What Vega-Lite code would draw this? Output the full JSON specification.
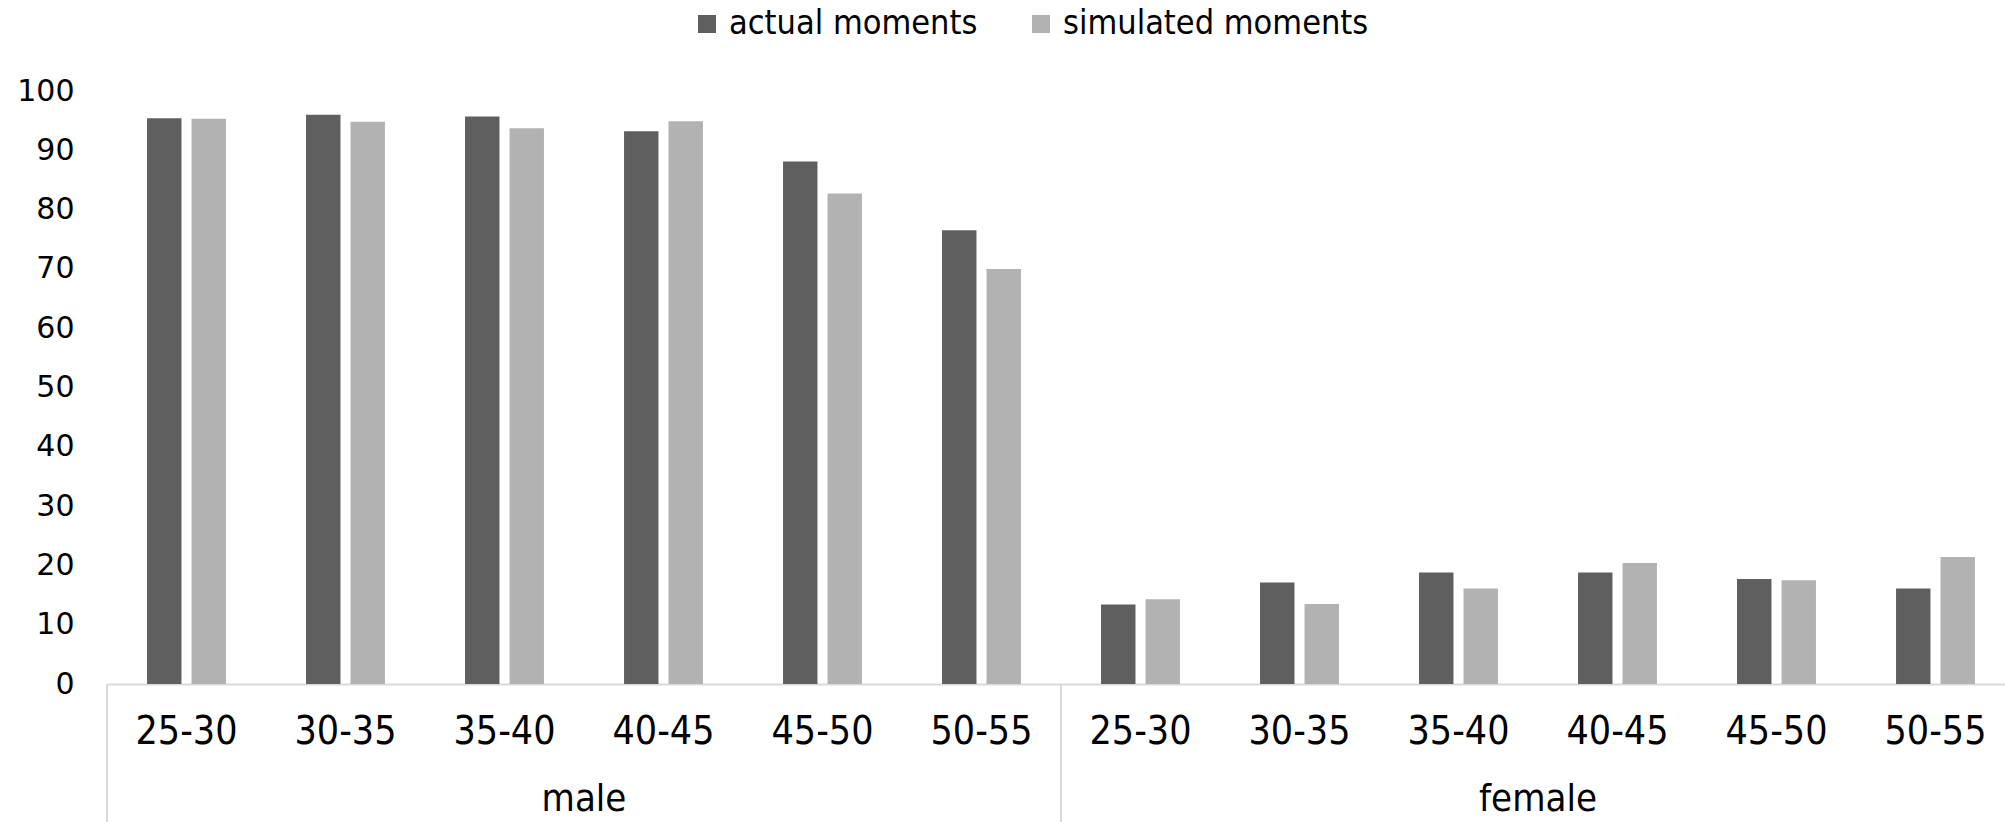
{
  "$schema": "https://vega.github.io/schema/vega-lite/v6.json",
  "width": 1908,
  "height": 593,
  "autosize": {"type": "none"},
  "padding": {"left": 107, "top": 91, "right": 0, "bottom": 138},
  "background": "white",
  "config": {"view": {"stroke": null}},
  "datasets": {
    "moments": [
      {"gender": "male", "age": "25-30", "cat": "male 25-30", "series": "actual moments", "value": 95.4},
      {"gender": "male", "age": "25-30", "cat": "male 25-30", "series": "simulated moments", "value": 95.3},
      {"gender": "male", "age": "30-35", "cat": "male 30-35", "series": "actual moments", "value": 96.0},
      {"gender": "male", "age": "30-35", "cat": "male 30-35", "series": "simulated moments", "value": 94.8},
      {"gender": "male", "age": "35-40", "cat": "male 35-40", "series": "actual moments", "value": 95.7},
      {"gender": "male", "age": "35-40", "cat": "male 35-40", "series": "simulated moments", "value": 93.7},
      {"gender": "male", "age": "40-45", "cat": "male 40-45", "series": "actual moments", "value": 93.2},
      {"gender": "male", "age": "40-45", "cat": "male 40-45", "series": "simulated moments", "value": 94.9},
      {"gender": "male", "age": "45-50", "cat": "male 45-50", "series": "actual moments", "value": 88.1},
      {"gender": "male", "age": "45-50", "cat": "male 45-50", "series": "simulated moments", "value": 82.7},
      {"gender": "male", "age": "50-55", "cat": "male 50-55", "series": "actual moments", "value": 76.5},
      {"gender": "male", "age": "50-55", "cat": "male 50-55", "series": "simulated moments", "value": 70.0},
      {"gender": "female", "age": "25-30", "cat": "female 25-30", "series": "actual moments", "value": 13.4},
      {"gender": "female", "age": "25-30", "cat": "female 25-30", "series": "simulated moments", "value": 14.3},
      {"gender": "female", "age": "30-35", "cat": "female 30-35", "series": "actual moments", "value": 17.1},
      {"gender": "female", "age": "30-35", "cat": "female 30-35", "series": "simulated moments", "value": 13.5},
      {"gender": "female", "age": "35-40", "cat": "female 35-40", "series": "actual moments", "value": 18.8},
      {"gender": "female", "age": "35-40", "cat": "female 35-40", "series": "simulated moments", "value": 16.1},
      {"gender": "female", "age": "40-45", "cat": "female 40-45", "series": "actual moments", "value": 18.8},
      {"gender": "female", "age": "40-45", "cat": "female 40-45", "series": "simulated moments", "value": 20.4},
      {"gender": "female", "age": "45-50", "cat": "female 45-50", "series": "actual moments", "value": 17.7},
      {"gender": "female", "age": "45-50", "cat": "female 45-50", "series": "simulated moments", "value": 17.5},
      {"gender": "female", "age": "50-55", "cat": "female 50-55", "series": "actual moments", "value": 16.1},
      {"gender": "female", "age": "50-55", "cat": "female 50-55", "series": "simulated moments", "value": 21.4}
    ],
    "groups": [{"gender": "male"}, {"gender": "female"}]
  },
  "layer": [
    {
      "data": {"name": "moments"},
      "mark": {"type": "bar"},
      "encoding": {
        "x": {
          "field": "cat", "type": "nominal", "sort": null,
          "scale": {"paddingInner": 0, "paddingOuter": 0},
          "axis": {
            "title": null, "ticks": false, "labelAngle": 0,
            "labelExpr": "split(datum.label, ' ')[1]",
            "labelFont": "Liberation Sans Narrow, Arial Narrow, DejaVu Sans Condensed, sans-serif",
            "labelFontSize": 39, "labelColor": "#000000", "labelPadding": 28,
            "domainColor": "#d9d9d9", "domainWidth": 2, "grid": false
          }
        },
        "xOffset": {
          "field": "series", "type": "nominal",
          "scale": {"paddingInner": 0.226, "paddingOuter": 0.9}
        },
        "y": {
          "field": "value", "type": "quantitative",
          "scale": {"domain": [0, 100], "nice": false},
          "axis": {
            "title": null, "ticks": false, "domain": false, "grid": false,
            "values": [0, 10, 20, 30, 40, 50, 60, 70, 80, 90, 100],
            "labelFont": "DejaVu Sans", "labelFontSize": 30, "labelColor": "#000000",
            "labelPadding": 33
          }
        },
        "color": {
          "field": "series", "type": "nominal",
          "scale": {"domain": ["actual moments", "simulated moments"], "range": ["#5f5f5f", "#b2b2b2"]},
          "legend": {
            "title": null, "orient": "none", "direction": "horizontal",
            "legendX": 583, "legendY": -84,
            "symbolType": "square", "symbolSize": 324, "symbolStrokeWidth": 0,
            "labelFont": "Liberation Sans Narrow, Arial Narrow, DejaVu Sans Condensed, sans-serif",
            "labelFontSize": 34, "labelColor": "#000000", "labelOffset": 5,
            "labelLimit": 0, "columnPadding": 46
          }
        }
      }
    },
    {
      "data": {"name": "groups"},
      "mark": {"type": "rule", "color": "#d9d9d9", "strokeWidth": 2},
      "encoding": {
        "x": {
          "field": "gender", "type": "nominal", "sort": ["male", "female"], "bandPosition": 0,
          "scale": {"paddingInner": 0, "paddingOuter": 0}, "axis": null
        },
        "y": {"datum": 0, "scale": {"domain": [0, 100], "nice": false}},
        "y2": {"datum": -23.5}
      }
    },
    {
      "data": {"name": "groups"},
      "mark": {
        "type": "text", "baseline": "middle", "align": "center",
        "font": "Liberation Sans Narrow, Arial Narrow, DejaVu Sans Condensed, sans-serif",
        "fontSize": 38, "color": "#000000"
      },
      "encoding": {
        "x": {
          "field": "gender", "type": "nominal", "sort": ["male", "female"],
          "scale": {"paddingInner": 0, "paddingOuter": 0}, "axis": null
        },
        "y": {"datum": -19.6, "scale": {"domain": [0, 100], "nice": false}},
        "text": {"field": "gender"}
      }
    }
  ],
  "resolve": {"scale": {"x": "independent"}}
}
